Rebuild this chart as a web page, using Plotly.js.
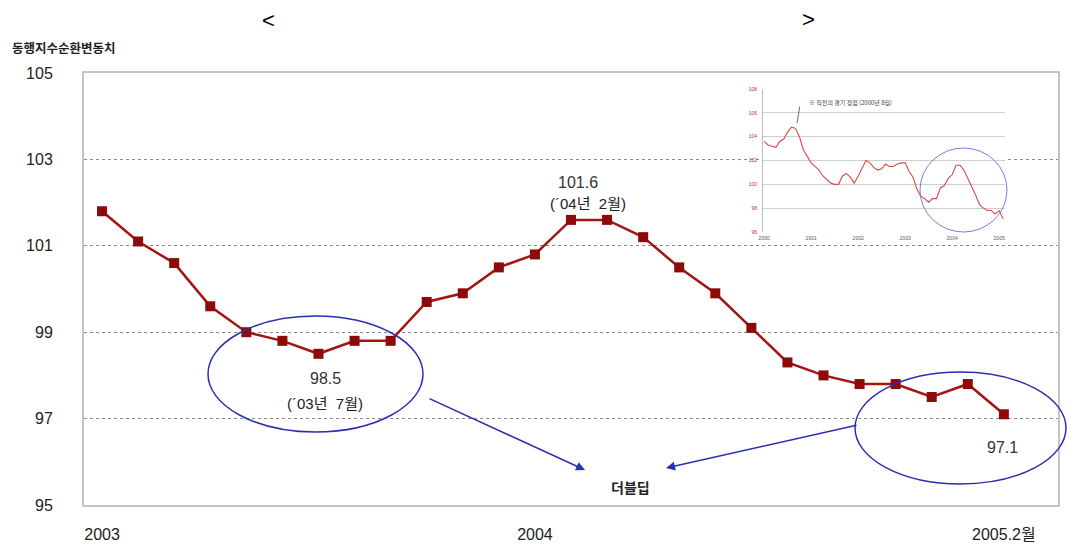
<!DOCTYPE html>
<html>
<head>
<meta charset="utf-8">
<script src="https://cdn.plot.ly/plotly-3.0.1.min.js"></script>
<style>html,body{margin:0;padding:0;background:#fff;}#chart{width:1067px;height:546px;}</style>
</head>
<body>
<div id="chart"></div>
<script>
// ---- main series: 동행지수 순환변동치, 2003.1 ~ 2005.2 ----
const months = ['2003.01','2003.02','2003.03','2003.04','2003.05','2003.06','2003.07','2003.08','2003.09','2003.10','2003.11','2003.12',
                '2004.01','2004.02','2004.03','2004.04','2004.05','2004.06','2004.07','2004.08','2004.09','2004.10','2004.11','2004.12',
                '2005.01','2005.02'];
const values2003 = [101.8, 101.1, 100.6, 99.6, 99.0, 98.8, 98.5, 98.8, 98.8, 99.7, 99.9, 100.5];
const values2004 = [100.8, 101.6, 101.6, 101.2, 100.5, 99.9, 99.1, 98.3, 98.0, 97.8, 97.8, 97.5];
const values2005 = [97.8, 97.1];
const mainValues = values2003.concat(values2004, values2005);

const xTickVals = ['2003.01', '2004.01', '2005.02'];
const xTickText = ['2003', '2004', '2005.2월'];
const yTickVals = [95, 97, 99, 101, 103, 105];

// ---- inset series: 2000.1 ~ 2002.12 (then same as main) ----
const inset2000 = [103.6, 103.3, 103.2, 103.1, 103.6, 103.8, 104.4, 104.8, 104.7, 104.0, 102.9, 102.3];
const inset2001 = [101.8, 101.5, 101.2, 100.7, 100.4, 100.1, 100.0, 100.0, 100.7, 100.9, 100.6, 100.1];
const inset2002 = [100.7, 101.3, 102.0, 101.8, 101.4, 101.2, 101.3, 101.7, 101.5, 101.5, 101.7, 101.8];
const insetValues = inset2000.concat(inset2001, inset2002, mainValues);
const insetIdx = insetValues.map((_, i) => i);
const insetTickVals = [0, 12, 24, 36, 48, 60];
const insetTickText = ['2000', '2001', '2002', '2003', '2004', '2005'];
const insetYTicks = [96, 98, 100, 102, 104, 106, 108];

// ---- pixel -> paper helpers ----
const L = 84, R = 1058, T = 73, B = 505;
const px = x => (x - L) / (R - L);
const py = y => (B - y) / (B - T);

const FONT = 'Liberation Sans, Arial, Noto Sans CJK KR, sans-serif';
const KFONT = 'Noto Sans CJK KR, sans-serif';

const traces = [
  {
    x: months, y: mainValues, type: 'scatter', mode: 'lines+markers',
    line: {color: '#a31515', width: 2.5},
    marker: {symbol: 'square', size: 10, color: '#8c0a0a'},
    hoverinfo: 'x+y', xaxis: 'x', yaxis: 'y'
  },
  {
    x: insetIdx, y: insetValues, type: 'scatter', mode: 'lines',
    line: {color: '#d84a4a', width: 1.1},
    hoverinfo: 'skip', xaxis: 'x2', yaxis: 'y2'
  }
];

function txt(x, y, text, size, opts) {
  return Object.assign({
    xref: 'paper', yref: 'paper', x: px(x), y: py(y), text: text, showarrow: false,
    xanchor: 'center', yanchor: 'middle',
    font: {family: FONT, size: size, color: '#333'}
  }, opts || {});
}

const annotations = [
  txt(268, 21, '&lt;', 22, {font: {family: FONT, size: 22, color: '#000'}}),
  txt(808, 19, '&gt;', 22, {font: {family: FONT, size: 22, color: '#000'}}),
  txt(64, 47, '<b>동행지수순환변동치</b>', 12.5, {font: {family: KFONT, size: 12.5, color: '#222'}}),
  txt(325, 378, '98.5', 16),
  txt(325, 403, "(´03년  7월)", 15, {font: {family: FONT, size: 15, color: '#222'}}),
  txt(578, 182, '101.6', 16),
  txt(588, 203, "(´04년  2월)", 15, {font: {family: FONT, size: 15, color: '#222'}}),
  txt(1002, 447, '97.1', 16),
  txt(630, 487, '<b>더블딥</b>', 14, {font: {family: KFONT, size: 14, color: '#222'}}),
  // arrows to 더블딥
  {xref: 'paper', yref: 'paper', x: px(585), y: py(470), ax: 428 - 585, ay: 398 - 470,
   showarrow: true, arrowhead: 2, arrowsize: 1.2, arrowwidth: 1.5, arrowcolor: '#2a2fb0', text: ''},
  {xref: 'paper', yref: 'paper', x: px(666), y: py(468), ax: 858 - 666, ay: 425 - 468,
   showarrow: true, arrowhead: 2, arrowsize: 1.2, arrowwidth: 1.5, arrowcolor: '#2a2fb0', text: ''},
  // inset note
  {xref: 'paper', yref: 'paper', x: px(797), y: py(123), ax: 3, ay: -18,
   showarrow: true, arrowhead: 0, arrowwidth: 0.8, arrowcolor: '#444', text: ''},
  txt(850, 102, '※ 직전의 경기 정점 (2000년 8월)', 6, {font: {family: KFONT, size: 6, color: '#444'}})
];

const shapes = [
  // inset white box over main gridlines
  {type: 'rect', xref: 'paper', yref: 'paper', x0: px(742), x1: px(1012), y0: py(252), y1: py(78),
   fillcolor: '#fff', line: {width: 0}, layer: 'between'},
  // ellipses
  {type: 'circle', xref: 'paper', yref: 'paper', x0: px(208), x1: px(423), y0: py(432), y1: py(316),
   line: {color: '#2a2fb0', width: 1.5}},
  {type: 'circle', xref: 'paper', yref: 'paper', x0: px(855), x1: px(1066), y0: py(484), y1: py(372),
   line: {color: '#2a2fb0', width: 1.5}},
  // inset circle
  {type: 'circle', xref: 'paper', yref: 'paper', x0: px(920), x1: px(1007), y0: py(232), y1: py(148),
   line: {color: '#6670e0', width: 0.9}}
];

const layout = {
  width: 1067, height: 546,
  margin: {l: L, r: 1067 - R, t: T, b: 546 - B, pad: 0},
  paper_bgcolor: '#fff', plot_bgcolor: '#fff',
  showlegend: false,
  font: {family: FONT, size: 16, color: '#222'},
  xaxis: {
    type: 'category', range: [-0.5, 26.5], domain: [0, 1],
    tickvals: xTickVals, ticktext: xTickText, ticks: '', ticklabelstandoff: 14,
    tickfont: {family: FONT, size: 16, color: '#222'},
    showgrid: false, zeroline: false,
    showline: true, mirror: true, linecolor: '#c4c4c4', linewidth: 2
  },
  yaxis: {
    range: [95, 105], domain: [0, 1],
    tickvals: yTickVals, ticks: '', ticklabelstandoff: 26,
    tickfont: {family: FONT, size: 16, color: '#222'},
    showgrid: true, gridcolor: '#8a8a8a', griddash: 'dot', gridwidth: 1,
    zeroline: false,
    showline: true, mirror: true, linecolor: '#c4c4c4', linewidth: 2
  },
  xaxis2: {
    anchor: 'y2', domain: [px(763), px(1005)], range: [-0.3, 61.5],
    tickvals: insetTickVals, ticktext: insetTickText, ticks: '',
    tickfont: {family: FONT, size: 5, color: '#555'}, ticklabelstandoff: 2,
    showgrid: false, zeroline: false, showline: false
  },
  yaxis2: {
    anchor: 'x2', domain: [py(232), py(89)], range: [96, 108],
    tickvals: insetYTicks, ticks: '',
    tickfont: {family: FONT, size: 5, color: '#c03030'}, ticklabelstandoff: 4,
    showgrid: true, gridcolor: '#cfcfcf', gridwidth: 1,
    zeroline: false, showline: true, linecolor: '#bbb', linewidth: 1
  },
  annotations: annotations,
  shapes: shapes
};

Plotly.newPlot('chart', traces, layout, {displayModeBar: false, staticPlot: true});
</script>
</body>
</html>
